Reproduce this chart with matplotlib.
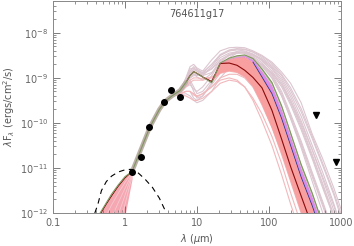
import numpy as np
import matplotlib
matplotlib.use('Agg')
import matplotlib.pyplot as plt

## wavelength grids (micron)
lam_uv = [0.45, 0.55, 0.65, 0.8, 1.0, 1.25]
lam_nir = [1.25, 1.65, 2.2, 3.0, 3.6, 4.5]
lam_tail = [5.8, 7, 8, 9, 10, 12, 16, 21, 28, 36, 46, 60, 80, 110, 150, 200, 280, 400, 560, 800, 1100]
lam_fill = [16, 21, 28, 36, 46, 60, 80, 110, 150, 200, 280, 400, 560, 800, 1100]

## log10 of lambda*F_lambda (ergs/cm2/s)
band_nir = [-11.08, -10.6, -10.1, -9.7, -9.52, -9.4]
red_uv = [-12.03, -11.8, -11.62, -11.41, -11.22, -11.08]
green_uv = [-12.0, -11.77, -11.58, -11.38, -11.19, -11.08]
uv_lines = [
    [-12.3, -12.05, -11.82, -11.57, -11.32, -11.1],
    [-12.7, -12.4, -12.1, -11.78, -11.45, -11.12],
    [-13.3, -12.9, -12.5, -12.05, -11.6, -11.15],
    [-14.0, -13.5, -13.0, -12.4, -11.8, -11.2],
]
uv_low = [-15.0, -14.3, -13.6, -12.9, -12.05, -11.25]

green_tail = [-9.28, -9.1, -8.95, -8.86, -8.9, -8.98, -9.11, -8.67, -8.56, -8.51, -8.49, -8.57, -8.8,
              -9.1, -9.62, -10.22, -10.92, -11.56, -12.25, -12.9, -13.6]
red_tail = [-9.28, -9.1, -8.95, -8.86, -8.9, -8.98, -9.08, -8.68, -8.67, -8.72, -8.83, -8.99, -9.22,
            -9.72, -10.36, -10.97, -11.62, -12.3, -13.0, -13.7, -14.4]

gray_tails = [
    [-9.3, -9.0, -8.75, -8.7, -8.78, -8.85, -8.6, -8.4, -8.33, -8.32, -8.33, -8.4, -8.5, -8.65, -8.87, -9.12, -9.55, -10.25, -10.8, -11.45, -12.1],
    [-9.3, -9.05, -8.8, -8.78, -8.85, -8.95, -8.75, -8.5, -8.4, -8.38, -8.4, -8.47, -8.58, -8.75, -9.0, -9.35, -9.85, -10.5, -11.1, -11.8, -12.5],
    [-9.32, -9.1, -8.95, -8.9, -8.98, -9.05, -8.9, -8.6, -8.48, -8.42, -8.42, -8.48, -8.62, -8.85, -9.15, -9.55, -10.1, -10.75, -11.4, -12.1, -12.8],
    [-9.35, -9.2, -9.1, -9.3, -9.45, -9.4, -9.1, -8.75, -8.55, -8.45, -8.43, -8.48, -8.6, -8.8, -9.1, -9.5, -10.05, -10.7, -11.35, -12.05, -12.75],
    [-9.33, -9.15, -9.05, -9.2, -9.35, -9.3, -9.05, -8.8, -8.62, -8.52, -8.5, -8.55, -8.7, -8.95, -9.35, -9.85, -10.45, -11.15, -11.8, -12.5, -13.2],
    [-9.3, -9.05, -8.9, -8.82, -8.85, -8.9, -8.8, -8.62, -8.5, -8.45, -8.45, -8.52, -8.66, -8.92, -9.3, -9.8, -10.4, -11.1, -11.75, -12.45, -13.1],
    [-9.38, -9.35, -9.4, -9.5, -9.55, -9.5, -9.3, -9.0, -8.78, -8.65, -8.6, -8.62, -8.72, -8.9, -9.2, -9.6, -10.15, -10.8, -11.45, -12.1, -12.8],
    [-9.36, -9.3, -9.3, -9.45, -9.5, -9.4, -9.15, -8.9, -8.7, -8.6, -8.58, -8.62, -8.75, -9.0, -9.4, -9.9, -10.5, -11.2, -11.85, -12.55, -13.2],
    [-9.3, -9.1, -9.0, -8.95, -8.95, -8.9, -8.7, -8.5, -8.4, -8.36, -8.37, -8.43, -8.55, -8.72, -8.95, -9.28, -9.75, -10.35, -10.95, -11.6, -12.3],
    [-9.32, -9.15, -9.0, -8.92, -8.92, -8.95, -8.88, -8.7, -8.58, -8.52, -8.52, -8.58, -8.7, -8.88, -9.15, -9.5, -10.0, -10.6, -11.2, -11.85, -12.5],
    [-9.31, -9.08, -8.88, -8.8, -8.82, -8.88, -8.7, -8.48, -8.38, -8.35, -8.36, -8.42, -8.52, -8.68, -8.92, -9.22, -9.68, -10.3, -10.9, -11.55, -12.2],
    [-9.34, -9.2, -9.15, -9.25, -9.3, -9.2, -8.95, -8.65, -8.5, -8.44, -8.44, -8.5, -8.6, -8.78, -9.05, -9.42, -9.95, -10.6, -11.25, -11.95, -12.6],
    [-9.3, -9.02, -8.85, -8.75, -8.8, -8.92, -8.8, -8.55, -8.45, -8.42, -8.45, -8.55, -8.72, -9.0, -9.4, -9.9, -10.55, -11.3, -12.0, -12.7, -13.4],
]
pink_tails = [
    [-9.3, -9.15, -9.05, -9.0, -9.0, -9.02, -8.98, -8.85, -8.8, -8.82, -8.92, -9.1, -9.4, -9.85, -10.4, -11.0, -11.65, -12.35, -13.0, -13.7, -14.4],
    [-9.35, -9.3, -9.3, -9.35, -9.4, -9.35, -9.2, -9.0, -8.92, -8.92, -9.0, -9.2, -9.55, -10.05, -10.6, -11.2, -11.9, -12.6, -13.3, -14.0, -14.7],
    [-9.38, -9.4, -9.45, -9.5, -9.5, -9.45, -9.3, -9.12, -9.05, -9.08, -9.2, -9.45, -9.8, -10.3, -10.9, -11.55, -12.25, -13.0, -13.7, -14.4, -15.0],
    [-9.33, -9.2, -9.1, -9.05, -9.05, -9.05, -9.0, -8.9, -8.85, -8.88, -8.98, -9.2, -9.6, -10.1, -10.7, -11.3, -12.0, -12.7, -13.4, -14.1, -14.8],
    [-9.36, -9.3, -9.3, -9.38, -9.42, -9.35, -9.2, -9.05, -9.0, -9.05, -9.2, -9.5, -9.95, -10.5, -11.15, -11.8, -12.5, -13.2, -13.9, -14.6, -15.3],
]

pink_lo = [-9.1, -8.9, -8.85, -8.88, -8.98, -9.2, -9.6, -10.12, -10.7, -11.3, -12.0, -12.7, -13.4, -14.1, -14.8]
blue = [-9.11, -8.68, -8.58, -8.54, -8.53, -8.65, -8.98, -9.35, -9.9, -10.5, -11.2, -11.84, -12.53, -13.2, -13.9]
violet_hi = [-9.11, -8.67, -8.57, -8.52, -8.5, -8.59, -8.85, -9.17, -9.71, -10.31, -11.01, -11.65, -12.34, -13.0, -13.7]
green_fill = [-9.11, -8.67, -8.56, -8.51, -8.49, -8.57, -8.8, -9.1, -9.62, -10.22, -10.92, -11.56, -12.25, -12.9, -13.6]

bb_lam = [0.38, 0.42, 0.47, 0.55, 0.65, 0.8, 1.0, 1.2, 1.5, 1.9, 2.4, 3.0, 3.7, 4.2]
bb_logf = [-12.0, -11.8, -11.5, -11.3, -11.18, -11.09, -11.04, -11.03, -11.1, -11.25, -11.43, -11.67, -11.98, -12.2]

obs_lam = [1.24, 1.65, 2.17, 3.5, 4.4, 5.8]
obs_logf = [-11.08, -10.76, -10.10, -9.53, -9.27, -9.42]
lim_lam = [450, 850]
lim_logf = [-9.82, -10.87]

def p(v):
    return 10 ** np.array(v)

fig = plt.figure(figsize=(3.54, 2.46), dpi=100)
ax = fig.add_axes([0.150, 0.134, 0.813, 0.862])

lam_full = lam_nir + lam_tail
for g in gray_tails:
    ax.plot(lam_full, p(band_nir + g), color='#dcc6d0', lw=0.8, zorder=1)
for g in pink_tails:
    ax.plot(lam_full, p(band_nir + g), color='#f2b8bc', lw=0.8, zorder=1.2)

# short wavelength fan
ax.fill_between(lam_uv, p(uv_low), p(red_uv), color='#f5a8b2', lw=0, zorder=1.5)
for u in uv_lines:
    ax.plot(lam_uv, p(u), color='#f8cdd3', lw=0.5, zorder=1.6)

# filled ranges
ax.fill_between(lam_fill, p(pink_lo), p(blue), color='#f8a0a0', lw=0, zorder=2)
ax.fill_between(lam_fill, p(blue), p(violet_hi), color='#dc8ce6', lw=0, zorder=2)
ax.fill_between(lam_fill, p(violet_hi), p(green_fill), color='#b4c896', lw=0, zorder=2)

ax.plot(lam_uv + lam_nir[1:] + lam_tail, p(red_uv + band_nir[1:] + red_tail), color='#8b0a0a', lw=0.8, zorder=3)
ax.plot(lam_fill[5:], p(blue[5:]), color='#2b2b8c', lw=0.6, zorder=3)
ax.plot(lam_nir + lam_tail[:2], p(band_nir + green_tail[:2]), color='#bdb0a8', lw=3.2, zorder=3.5, solid_capstyle='round')
ax.plot(lam_uv[:-1] + lam_nir + lam_tail, p(green_uv[:-1] + band_nir + green_tail), color='#7f9560', lw=0.8, zorder=4)

ax.plot(bb_lam, p(bb_logf), color='black', lw=0.8, ls=(0, (5, 4)), zorder=4)
ax.plot(obs_lam, p(obs_logf), 'o', color='black', ms=4, zorder=5)
ax.plot(lim_lam, p(lim_logf), 'v', color='black', ms=5, zorder=5)

ax.set_xscale('log')
ax.set_yscale('log')
ax.set_xlim(0.1, 1000)
ax.set_ylim(1e-12, 5.1e-8)
ax.set_xticks([0.1, 1, 10, 100, 1000])
ax.set_xticklabels(['0.1', '1', '10', '100', '1000'])
ax.tick_params(which='both', direction='in', top=True, right=True, colors='#666666', labelsize=7)
ax.tick_params(which='major', length=5, width=0.6)
ax.tick_params(which='minor', length=2.5, width=0.5)
for s in ax.spines.values():
    s.set_color('#888888')
    s.set_linewidth(0.7)

ax.text(0.5, 0.94, '764611g17', transform=ax.transAxes, ha='center', va='center', fontsize=7, color='#555555')
ax.set_xlabel(r'$\lambda$ ($\mu$m)', fontsize=7, color='#555555', labelpad=3)
ax.set_ylabel(r'$\lambda$F$_\lambda$ (ergs/cm$^2$/s)', fontsize=7, color='#555555', labelpad=2)

fig.savefig('out.png', dpi=100)
